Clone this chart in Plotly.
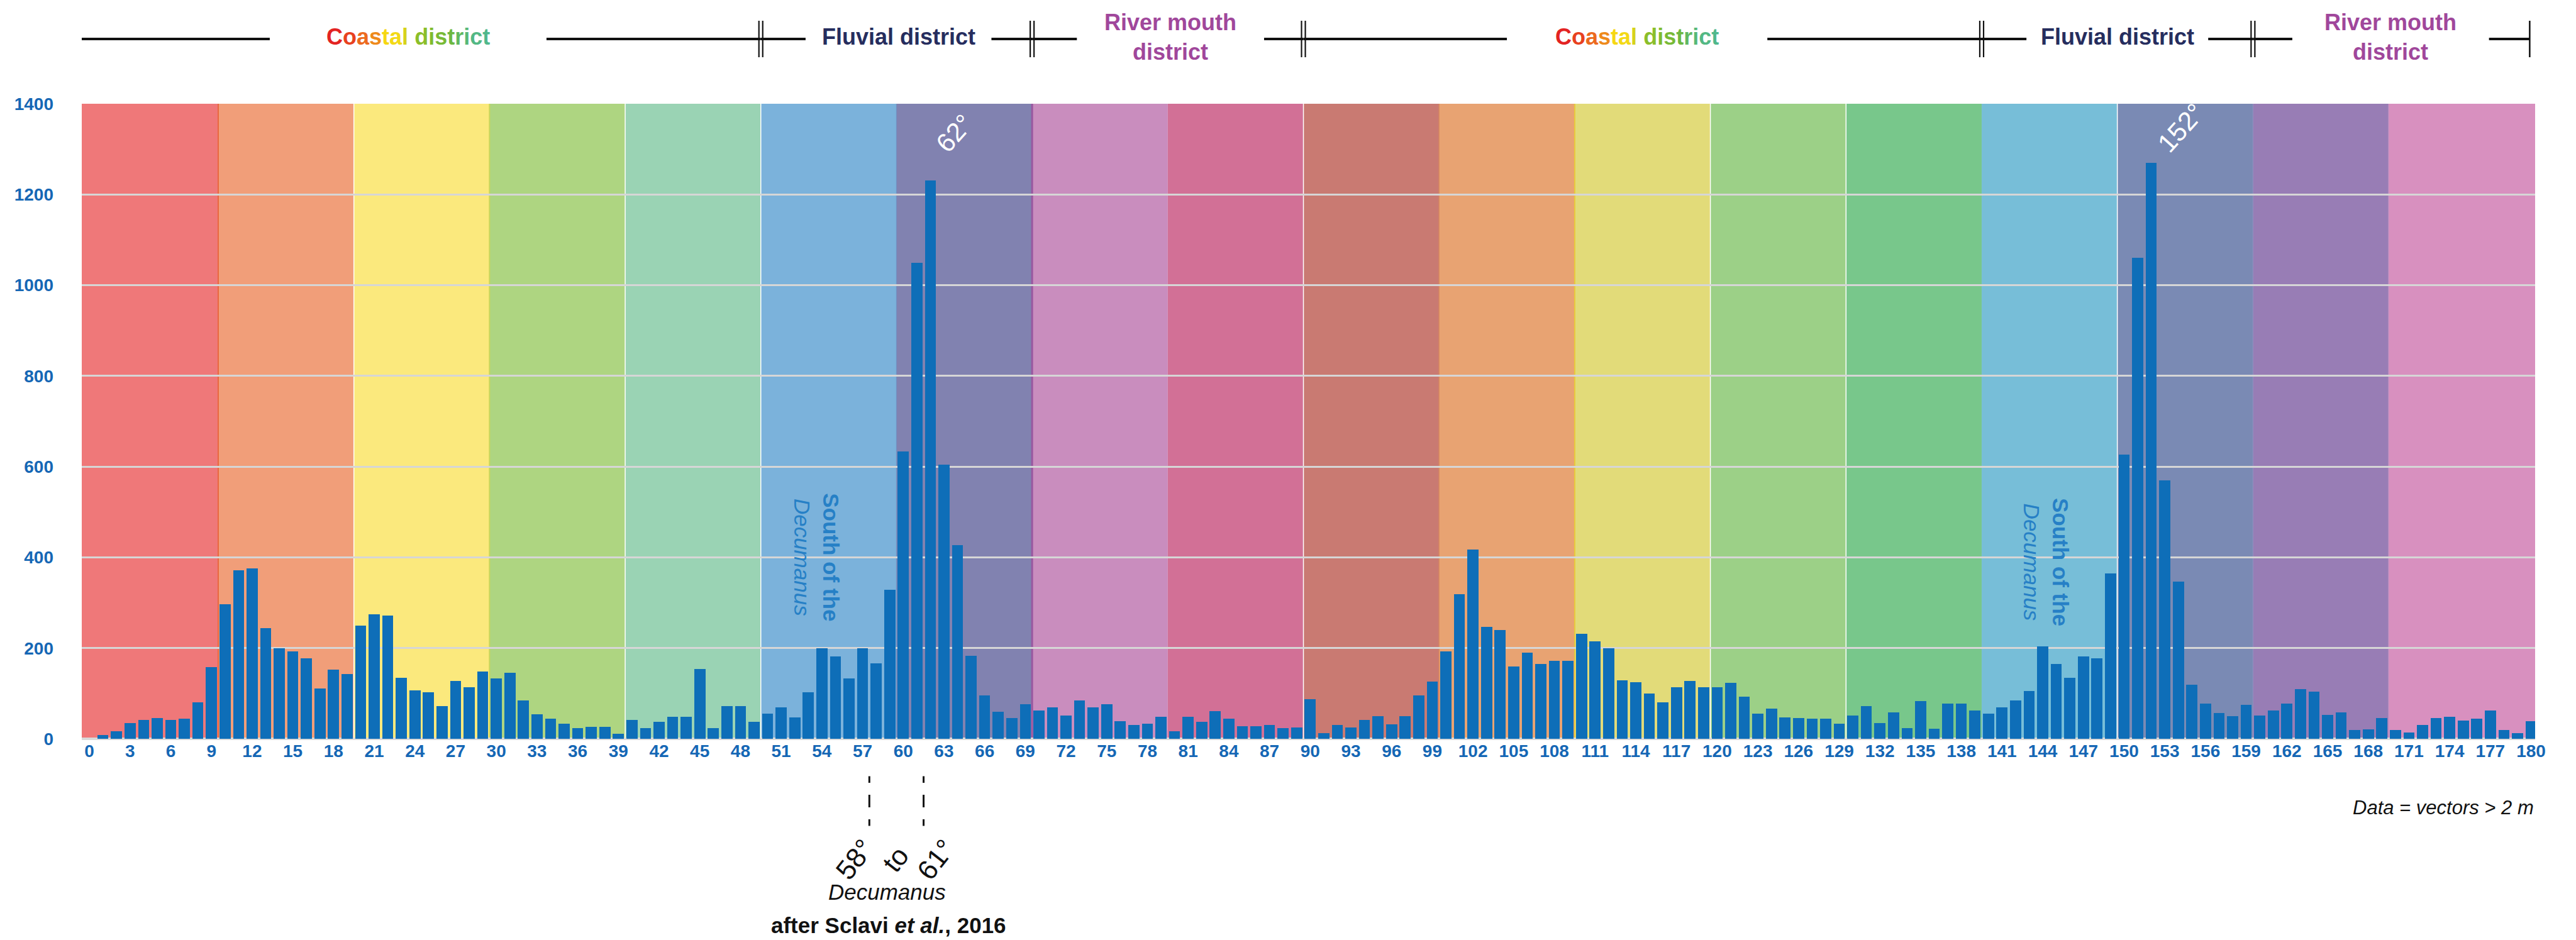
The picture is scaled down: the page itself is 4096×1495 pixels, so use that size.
import plotly.graph_objects as go

# ---------------- data ----------------
angles = list(range(0, 181))
counts = [
    0, 9, 16, 34, 42, 46, 41, 44, 80, 158,
    297, 371, 375, 244, 200, 193, 178, 111, 152, 143,
    250, 274, 271, 135, 107, 103, 72, 127, 113, 148,
    133, 145, 85, 54, 45, 33, 24, 26, 27, 11,
    41, 24, 38, 49, 49, 154, 24, 72, 72, 37,
    55, 70, 47, 102, 200, 181, 133, 200, 166, 328,
    634, 1050, 1231, 604, 427, 183, 96, 60, 46, 76,
    62, 69, 51, 84, 69, 76, 39, 30, 33, 48,
    17, 48, 37, 61, 44, 28, 28, 30, 23, 25,
    88, 12, 30, 25, 41, 50, 32, 50, 95, 126,
    193, 319, 417, 247, 240, 160, 190, 165, 172, 172,
    232, 215, 199, 129, 125, 100, 80, 113, 128, 114,
    114, 123, 93, 56, 66, 47, 46, 44, 44, 33,
    51, 72, 35, 58, 24, 83, 22, 77, 78, 63,
    56, 70, 85, 105, 204, 165, 134, 182, 177, 365,
    627, 1060, 1270, 570, 346, 119, 77, 57, 50, 75,
    51, 62, 77, 110, 104, 52, 58, 19, 21, 46,
    20, 14, 30, 46, 49, 40, 44, 62, 20, 12,
    39,
]
x_tick_vals = list(range(0, 181, 3))
x_tick_text = [str(v) for v in x_tick_vals]
y_tick_vals = [0, 200, 400, 600, 800, 1000, 1200, 1400]
y_tick_text = [str(v) for v in y_tick_vals]

peak_angles = [62, 152]
peak_labels = ["62°", "152°"]

district_labels = ["COASTAL", "Fluvial district", "River mouth<br>district",
                   "COASTAL", "Fluvial district", "River mouth<br>district"]
district_colors = ["", "#262D5E", "#A0479B", "", "#262D5E", "#A0479B"]

# ---------------- layout / styling ----------------
FONT = "Liberation Sans, Arial, sans-serif"
BAR_COLOR = "#0E6EB8"
TICK_COLOR = "#1567B5"
W, H = 4096, 1495
ML, MR, MT, MB = 122, 73, 157, 328
PLOT_H = H - MT - MB
X_RANGE = [-0.56, 180.3]


def py(px):
    """pixel row (from top of page) -> paper y"""
    return (H - MB - px) / PLOT_H


band_edges = [X_RANGE[0]] + [9.5 + 10 * k for k in range(17)] + [X_RANGE[1]]
band_colors = ["#EF7879", "#F19E79", "#FBE97D", "#AED581", "#9AD3B4", "#7BB2DB",
               "#8182B0", "#C98DBE", "#D27096", "#C97A72", "#E8A372", "#E2DB79",
               "#9CD087", "#78C78B", "#77BED8", "#7A8AB4", "#987DB5", "#D890BF"]
edge_line_colors = ["#E9683F", "#FFFFFF", "#C8D65A", "#FFFFFF", "#FFFFFF", "#7390C2",
                    "#9957A0", None, "#FFFFFF", "#D98A5E", "#E8C93C", "#FFFFFF",
                    "#FFFFFF", None, "#FFFFFF", "#8E90C0", "#C794C3"]
edge_line_widths = [2, 1.5, 2, 1.5, 1.5, 1.2, 3, 0, 1.5, 1.5, 2, 1.5, 1.5, 0, 1.5, 1.2, 1.2]

coastal_letters = list("Coastal district")
coastal_colors = ["#E32322", "#E8411F", "#EC6A1E", "#EE8A1B", "#F6D712", "#F3D916", "#D6D21C",
                  "#FFFFFF", "#8BBE2A", "#80BB2E", "#78BA35", "#6CB840", "#60B860", "#58B876",
                  "#53B884", "#50B88C"]
coastal_html = "".join(
    (" " if ch == " " else f"<span style='color:{c}'>{ch}</span>")
    for ch, c in zip(coastal_letters, coastal_colors)
)

district_start = [-0.8, 49.5, 69.5, 89.5, 139.5, 159.5]
district_end = [49.5, 69.5, 89.5, 139.5, 159.5, 179.9]
gap_start = [13.3, 52.8, 72.8, 104.5, 142.8, 162.4]
gap_end = [33.7, 66.5, 86.6, 123.7, 156.2, 176.9]

fig = go.Figure()
fig.add_trace(go.Bar(
    x=angles, y=counts, width=0.82,
    marker=dict(color=BAR_COLOR, line=dict(width=0)),
    hoverinfo="x+y", showlegend=False,
))

shapes = []
for i, col in enumerate(band_colors):
    shapes.append(dict(type="rect", xref="x", yref="y", x0=band_edges[i], x1=band_edges[i + 1],
                       y0=0, y1=1400, fillcolor=col, line=dict(width=0), layer="below"))
for k, (lc, lw) in enumerate(zip(edge_line_colors, edge_line_widths)):
    if lc is None:
        continue
    xe = band_edges[k + 1]
    shapes.append(dict(type="line", xref="x", yref="y", x0=xe, x1=xe, y0=0, y1=1400,
                       line=dict(color=lc, width=lw), layer="below"))

# header rule
HY = py(54)
T0, T1 = py(25), py(83)
for s, e, gs, ge in zip(district_start, district_end, gap_start, gap_end):
    shapes.append(dict(type="line", xref="x", yref="paper", x0=s, x1=gs, y0=HY, y1=HY,
                       line=dict(color="#111111", width=4)))
    shapes.append(dict(type="line", xref="x", yref="paper", x0=ge, x1=e, y0=HY, y1=HY,
                       line=dict(color="#111111", width=4)))
for xe in [district_start[0], district_end[-1]]:
    shapes.append(dict(type="line", xref="x", yref="paper", x0=xe, x1=xe, y0=T0, y1=T1,
                       line=dict(color="#111111", width=2.5)))
for xe in district_start[1:]:
    for d in (-0.14, 0.14):
        shapes.append(dict(type="line", xref="x", yref="paper", x0=xe + d, x1=xe + d, y0=T0, y1=T1,
                           line=dict(color="#111111", width=2.2)))

# dashed Decumanus markers below axis
for xe in [57.5, 61.5]:
    shapes.append(dict(type="line", xref="x", yref="paper", x0=xe, x1=xe, y0=py(1226.5), y1=py(1306),
                       line=dict(color="#111111", width=3, dash="10.6px,19px,19.8px,19px")))

annotations = []
for lab, col, gs, ge in zip(district_labels, district_colors, gap_start, gap_end):
    text = coastal_html if lab == "COASTAL" else lab
    annotations.append(dict(
        x=(gs + ge) / 2, y=py(51), xref="x", yref="paper", text=f"<b>{text}</b>",
        showarrow=False, xanchor="center", yanchor="middle", align="center",
        font=dict(family=FONT, size=36, color=col if col else "#000000"),
    ))

# "South of the Decumanus"
for xc, yc in [(53.6, 400), (144.25, 389)]:
    annotations.append(dict(
        x=xc, y=yc, xref="x", yref="y", text="<b>South of the</b><br><i>Decumanus</i>",
        showarrow=False, textangle=90, align="center", xanchor="center", yanchor="middle",
        font=dict(family=FONT, size=35, color="#2680C6"),
    ))

# peak angle labels
for a, lab, (xc, yc) in zip(peak_angles, peak_labels, [(63.8, 1335), (154.2, 1346)]):
    annotations.append(dict(
        x=xc, y=yc, xref="x", yref="y", text=lab, showarrow=False, textangle=-48,
        xanchor="center", yanchor="middle", font=dict(family=FONT, size=42, color="#FFFFFF"),
    ))

# bottom annotations
for txt, xc in [("58°", 56.4), ("to", 59.4), ("61°", 62.4)]:
    annotations.append(dict(
        x=xc, y=py(1358), xref="x", yref="paper", text=txt, showarrow=False, textangle=-52,
        xanchor="center", yanchor="middle", font=dict(family=FONT, size=44, color="#111111"),
    ))
annotations.append(dict(
    x=58.8, y=py(1410), xref="x", yref="paper", text="<i>Decumanus</i>", showarrow=False,
    xanchor="center", yanchor="middle", font=dict(family=FONT, size=35, color="#111111"),
))
annotations.append(dict(
    x=58.9, y=py(1463), xref="x", yref="paper", text="<b>after Sclavi <i>et al.</i>, 2016</b>",
    showarrow=False, xanchor="center", yanchor="middle",
    font=dict(family=FONT, size=35, color="#111111"),
))
annotations.append(dict(
    x=1.0, y=py(1276), xref="paper", yref="paper", text="<i>Data = vectors &gt; 2 m</i>",
    showarrow=False, xanchor="right", yanchor="middle",
    font=dict(family=FONT, size=31, color="#111111"),
))

fig.update_layout(
    width=W, height=H,
    margin=dict(l=ML, r=MR, t=MT, b=MB, autoexpand=False),
    paper_bgcolor="#FFFFFF", plot_bgcolor="rgba(0,0,0,0)",
    font=dict(family=FONT, size=28, color=TICK_COLOR),
    bargap=0, showlegend=False,
    shapes=shapes, annotations=annotations,
    xaxis=dict(range=X_RANGE, tickmode="array", tickvals=x_tick_vals, ticktext=x_tick_text,
               showgrid=False, zeroline=False, showline=False, ticks="",
               ticklabelstandoff=0,
               tickfont=dict(family=FONT, size=28, color=TICK_COLOR, weight="bold"),
               fixedrange=True),
    yaxis=dict(range=[0, 1400], tickmode="array", tickvals=y_tick_vals, ticktext=y_tick_text,
               showgrid=True, gridcolor="#D6D6D6", gridwidth=2.5,
               zeroline=True, zerolinecolor="#D9D9D9", zerolinewidth=4,
               showline=False, ticks="", ticklabelstandoff=44,
               tickfont=dict(family=FONT, size=28, color=TICK_COLOR, weight="bold"),
               fixedrange=True),
)

fig.write_html("out.html")
